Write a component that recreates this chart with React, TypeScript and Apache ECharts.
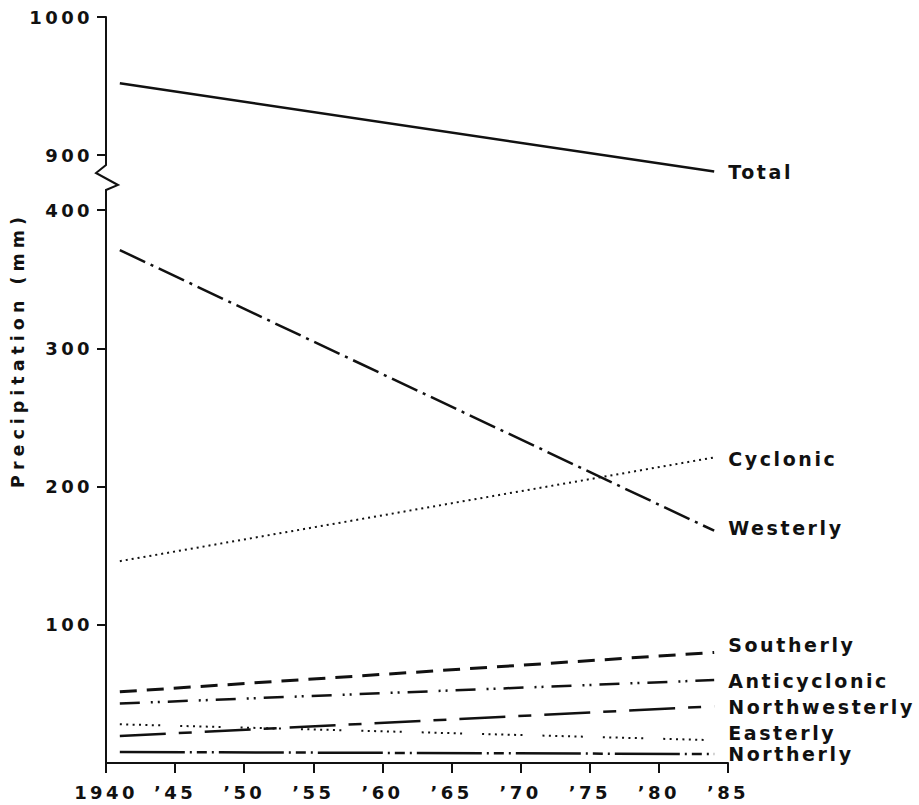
import React, { useEffect, useRef } from 'react';
import * as echarts from 'echarts';

// ---- data ----
const years = [1941, 1984];
const totalValues = [952, 888];
const cyclonicValues = [146, 221];
const westerlyValues = [371, 168];
const southerlyValues = [51.5, 80];
const anticyclonicValues = [43, 60];
const northwesterlyValues = [19.5, 41];
const easterlyValues = [28, 16.5];
const northerlyValues = [8, 6.5];
const upperTickValues = [900, 1000];
const lowerTickValues = [100, 200, 300, 400];
const xMin = 1940;
const xMax = 1985;
const xStep = 5;
const yAxisTitle = 'Precipitation (mm)';

// ---- layout ----
const W = 919;
const H = 805;
const GRID_LEFT = 106;
const GRID_RIGHT = 191;
const TOP_TOP = 17;
const TOP_H = 138;
const BOT_TOP = 210;
const BOT_H = 553;
const INK = '#111';
const FONT = "'DejaVu Sans', sans-serif";

const tickFont = { color: INK, fontSize: 18, fontWeight: 'bold' as const, fontFamily: FONT };
const labelFont = { color: INK, fontSize: 19, fontWeight: 'bold' as const, fontFamily: FONT };

export default function App() {
  const ref = useRef<HTMLDivElement>(null);

  useEffect(() => {
    if (!ref.current) return;
    const chart = echarts.init(ref.current, undefined, { renderer: 'svg', width: W, height: H });

    const mk = (
      name: string,
      values: number[],
      grid: number,
      dash: number[] | 'solid',
      width: number,
      dy: number
    ) => ({
      type: 'line',
      name,
      xAxisIndex: grid,
      yAxisIndex: grid,
      data: years.map((y, i) => [y, values[i]]),
      symbol: 'none',
      silent: true,
      clip: false,
      lineStyle: { color: INK, width, type: dash, cap: 'butt' },
      endLabel: {
        show: true,
        formatter: name,
        distance: 14,
        offset: [0, dy],
        ...labelFont,
      },
    });

    const xAxisCommon = {
      type: 'value',
      min: xMin,
      max: xMax,
      interval: xStep,
      splitLine: { show: false },
    };

    const breakX = GRID_LEFT;
    const breakTop = TOP_TOP + TOP_H;

    chart.setOption({
      animation: false,
      backgroundColor: '#fff',
      grid: [
        { left: GRID_LEFT, right: GRID_RIGHT, top: TOP_TOP, height: TOP_H, outerBoundsMode: 'none' },
        { left: GRID_LEFT, right: GRID_RIGHT, top: BOT_TOP, height: BOT_H, outerBoundsMode: 'none' },
      ],
      xAxis: [
        { ...xAxisCommon, gridIndex: 0, show: false },
        {
          ...xAxisCommon,
          gridIndex: 1,
          axisLine: { show: true, onZero: false, lineStyle: { color: INK, width: 2 } },
          axisTick: { show: true, length: 10, lineStyle: { color: INK, width: 2 } },
          axisLabel: {
            ...tickFont,
            margin: 20,
            formatter: (v: number) => (v === xMin ? String(v) : '\u2019' + String(v).slice(2)),
          },
        },
      ],
      yAxis: [
        {
          type: 'value',
          gridIndex: 0,
          min: upperTickValues[0],
          max: upperTickValues[1],
          interval: 100,
          splitLine: { show: false },
          axisLine: { show: true, onZero: false, lineStyle: { color: INK, width: 2 } },
          axisTick: { show: true, length: 9, lineStyle: { color: INK, width: 2 } },
          axisLabel: { ...tickFont, margin: 13, formatter: (v: number) => String(v) },
        },
        {
          type: 'value',
          gridIndex: 1,
          min: 0,
          max: 400,
          interval: 100,
          splitLine: { show: false },
          axisLine: { show: true, onZero: false, lineStyle: { color: INK, width: 2 } },
          axisTick: {
            show: true,
            length: 9,
            lineStyle: { color: INK, width: 2 },
            customValues: lowerTickValues,
          },
          axisLabel: {
            ...tickFont,
            margin: 13,
            customValues: lowerTickValues,
            formatter: (v: number) => (v === 0 ? '' : String(v)),
          },
        },
      ],
      graphic: [
        {
          type: 'polyline',
          silent: true,
          shape: {
            points: [
              [breakX, breakTop],
              [breakX, breakTop + 10],
              [breakX - 10, breakTop + 18],
              [breakX + 12, breakTop + 30],
              [breakX, breakTop + 35],
              [breakX, BOT_TOP],
            ],
          },
          style: { stroke: INK, lineWidth: 2, fill: null },
        },
        {
          type: 'text',
          x: 17.5,
          y: 350,
          rotation: Math.PI / 2,
          silent: true,
          style: {
            text: yAxisTitle,
            fill: INK,
            fontSize: 17.5,
            fontWeight: 'bold',
            fontFamily: FONT,
            align: 'center',
            verticalAlign: 'middle',
          },
        },
      ],
      series: [
        mk('Total', totalValues, 0, 'solid', 2.5, 0),
        mk('Cyclonic', cyclonicValues, 1, [2, 4], 2, 1.5),
        mk('Westerly', westerlyValues, 1, [28, 6, 3, 6], 2.5, -3),
        mk('Southerly', southerlyValues, 1, [17, 10], 3, -7.5),
        mk('Anticyclonic', anticyclonicValues, 1, [20, 11, 2, 5, 2, 8], 2.5, 1),
        mk('Northwesterly', northwesterlyValues, 1, [46, 13, 13, 13], 2.5, 1),
        mk('Easterly', easterlyValues, 1, [2, 4.4, 2, 4.4, 2, 4.4, 2, 4.4, 2, 4.4, 2, 4.4, 2, 20], 2, -7),
        mk('Northerly', northerlyValues, 1, [65, 5, 2, 5, 10, 5, 2, 5], 2.5, 0),
      ],
    });

    return () => chart.dispose();
  }, []);

  return (
    <>
      <style>{`
        body { margin: 0; }
        #chart-box text[style*="18px"] { letter-spacing: 3.4px; }
        #chart-box text[style*="19px"] { letter-spacing: 2.6px; }
        #chart-box text[style*="17.5px"] { letter-spacing: 5px; }
      `}</style>
      <div
        id="chart-box"
        ref={ref}
        style={{ position: 'absolute', left: 0, top: 0, width: W, height: H, background: '#fff' }}
      />
    </>
  );
}
